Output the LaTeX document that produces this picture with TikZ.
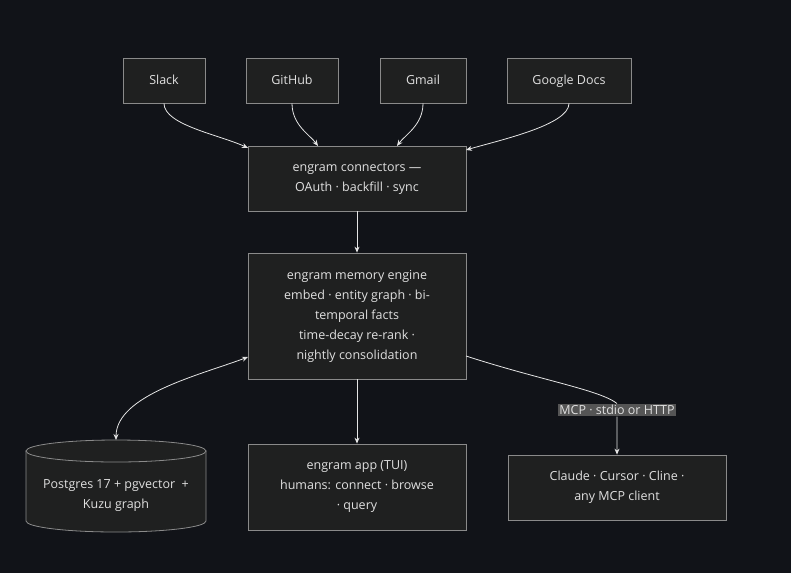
\documentclass[tikz,border=0pt]{standalone}
\usepackage{fontspec}
\setmainfont{Open Sans}
\usetikzlibrary{arrows.meta}
\definecolor{bg}{HTML}{111318}
\definecolor{boxfill}{HTML}{1F2020}
\definecolor{boxline}{HTML}{8A8A8A}
\definecolor{txt}{HTML}{E0E0E0}
\definecolor{lbl}{HTML}{555555}
\begin{document}
\begin{tikzpicture}[x=1pt,y=-1pt,
  box/.style={draw=boxline,fill=boxfill,line width=0.8pt,text=txt,font=\fontsize{12.5}{20}\selectfont,align=center,inner sep=0pt},
  edge/.style={draw=txt!85,line width=0.8pt,-{Stealth[length=6pt,width=5pt]}}]
\fill[bg] (0,0) rectangle (791,573);
\useasboundingbox (0,0) rectangle (791,573);
\node[box,minimum width=82pt,minimum height=45pt] (slack) at (164,80.5) {Slack\strut};
\node[box,minimum width=92pt,minimum height=45pt] (gh) at (292,80.5) {GitHub\strut};
\node[box,minimum width=86pt,minimum height=45pt] (gm) at (423,80.5) {Gmail\strut};
\node[box,minimum width=124pt,minimum height=45pt] (gd) at (569,80.5) {Google Docs\strut};
\node[box,minimum width=218pt,minimum height=65pt] (conn) at (357,178.5) {engram connectors —\\OAuth · backfill · sync};
\node[box,minimum width=218pt,minimum height=126pt] (eng) at (357,316) {engram memory engine\\embed · entity graph · bi-\\temporal facts\\time-decay re-rank ·\\nightly consolidation};
\node[box,minimum width=218pt,minimum height=86pt] (app) at (357,487) {engram app (TUI)\\humans: connect · browse\\· query};
\node[box,minimum width=218pt,minimum height=65pt] (cl) at (617,487.5) {Claude · Cursor · Cline ·\\any MCP client};
% cylinder
\path[draw=boxline,fill=boxfill,line width=0.8pt] (26,451) -- (26,521) arc[start angle=180,end angle=0,x radius=90,y radius=11] -- (206,451) -- cycle;
\draw[boxline,fill=boxfill,line width=0.8pt] (116,451) ellipse[x radius=90,y radius=11];
\node[text=txt,font=\fontsize{12.5}{20}\selectfont,align=center] (pg) at (116,496) {Postgres 17 + pgvector \ +\\Kuzu graph};
\coordinate (pgtop) at (116,440);
\coordinate (engl) at (248,357);
\coordinate (engr) at (466,356);
% edges
\draw[edge] (slack.south) .. controls (164,125) and (220,135) .. (248,148);
\draw[edge] (gh.south) .. controls (292,125) and (310,135) .. (318,146);
\draw[edge] (gm.south) .. controls (423,125) and (405,135) .. (397,146);
\draw[edge] (gd.south) .. controls (569,125) and (500,140) .. (466,150);
\draw[edge] (conn.south) -- (eng.north);
\draw[edge] (eng.south) -- (app.north);
\draw[edge,{Stealth[length=6pt,width=5pt]}-{Stealth[length=6pt,width=5pt]}] (pgtop) .. controls (116,395) and (200,375) .. (engl);
\node[fill=lbl,text=txt,font=\fontsize{12.5}{14}\selectfont,inner sep=1.5pt] (mcp) at (617,410) {MCP · stdio or HTTP};
\draw[edge] (engr) .. controls (540,380) and (600,390) .. (mcp.north) (mcp.south) .. controls (617,430) and (617,440) .. (cl.north);
\end{tikzpicture}
\end{document}
